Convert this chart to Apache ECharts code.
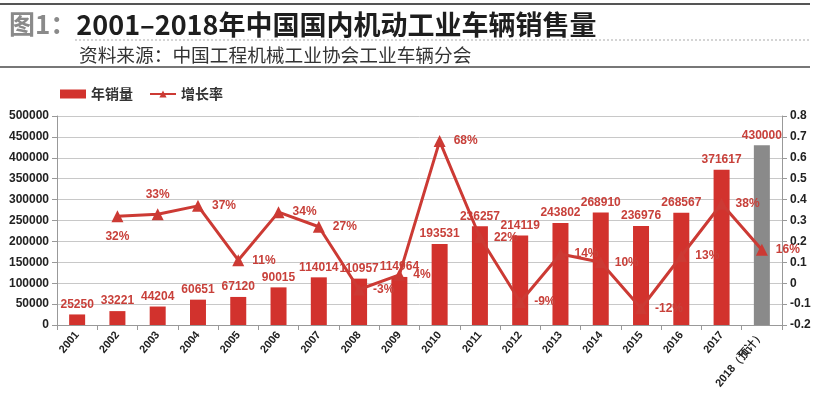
<!DOCTYPE html>
<html>
<head>
<meta charset="utf-8">
<script src="https://cdn.jsdelivr.net/npm/echarts@6/dist/echarts.min.js"></script>
<style>html,body{margin:0;padding:0;background:#fff;}#c{width:818px;height:395px;}</style>
</head>
<body>
<div id="c"></div>
<script>
const categories = ['2001','2002','2003','2004','2005','2006','2007','2008','2009','2010','2011','2012','2013','2014','2015','2016','2017','2018（预计）'];
const sales = [25250,33221,44204,60651,67120,90015,114014,110957,114964,193531,236257,214119,243802,268910,236976,268567,371617,430000];
const growth = [null,0.32,0.33,0.37,0.11,0.34,0.27,-0.03,0.04,0.68,0.22,-0.09,0.14,0.10,-0.12,0.13,0.38,0.16];
const leftTicks = {min:0, max:500000, interval:50000};
const rightTicks = {min:-0.2, max:0.8, interval:0.1};

const RED = '#d2322d', LINE = '#cc3a34', GRAY = '#8a8a8a';
const labelPos = {1:'bottom', 2:'top'};

const chart = echarts.init(document.getElementById('c'));
chart.setOption({
  backgroundColor:'#ffffff',
  animation:false,
  title:[{
    text:'{g|图1：}{b|2001–2018年中国国内机动工业车辆销售量}',
    left:4, top:6,
    textStyle:{rich:{
      g:{fontFamily:'Noto Sans CJK SC',fontWeight:'bold',fontSize:26,color:'#8a8a8a'},
      b:{fontFamily:'Noto Sans CJK SC',fontWeight:'bold',fontSize:27,color:'#1e1e1e'}
    }}
  },{
    text:'资料来源：中国工程机械工业协会工业车辆分会',
    left:74, top:41,
    textStyle:{fontFamily:'Noto Sans CJK SC',fontWeight:'normal',fontSize:18.7,color:'#333'}
  }],
  graphic:[
    {type:'line',shape:{x1:0,y1:4,x2:810,y2:4},style:{stroke:'#555',lineWidth:2}},
    {type:'line',shape:{x1:75,y1:40,x2:810,y2:40},style:{stroke:'#aaa',lineWidth:1,lineDash:[2,2]}},
    {type:'line',shape:{x1:0,y1:67,x2:810,y2:67},style:{stroke:'#777',lineWidth:2}}
  ],
  legend:{
    left:55, top:82, itemGap:16,
    textStyle:{fontFamily:'Noto Sans CJK SC',fontWeight:'bold',fontSize:14,color:'#333'},
    data:[
      {name:'年销量',icon:'rect',itemStyle:{color:RED}},
      {name:'增长率'}
    ],
    itemWidth:26, itemHeight:9
  },
  grid:{left:57,right:36,top:116,bottom:70},
  xAxis:{
    type:'category', data:categories,
    axisLine:{lineStyle:{color:'#999'}},
    axisTick:{show:true,alignWithLabel:false,lineStyle:{color:'#999'}},
    axisLabel:{rotate:50,interval:0,fontFamily:'Liberation Sans',fontWeight:'bold',fontSize:11,color:'#222',margin:8}
  },
  yAxis:[{
    type:'value', min:leftTicks.min, max:leftTicks.max, interval:leftTicks.interval,
    axisLine:{show:true,lineStyle:{color:'#999'}},
    axisTick:{show:true,lineStyle:{color:'#999'}},
    axisLabel:{fontFamily:'Liberation Sans',fontWeight:'bold',fontSize:12,color:'#222',margin:8,
      formatter:v=>String(v)},
    splitLine:{lineStyle:{color:'#c8c8c8'}}
  },{
    type:'value', min:rightTicks.min, max:rightTicks.max, interval:rightTicks.interval,
    axisLine:{show:true,lineStyle:{color:'#999'}},
    axisTick:{show:true,lineStyle:{color:'#999'}},
    axisLabel:{fontFamily:'Liberation Sans',fontWeight:'bold',fontSize:12,color:'#222',margin:8,
      formatter:v=>String(+v.toFixed(1))},
    splitLine:{show:false}
  }],
  series:[{
    name:'年销量', type:'bar', yAxisIndex:0, barWidth:16,
    data:sales.map((v,i)=>({value:v,itemStyle:{color:i===sales.length-1?GRAY:RED}})),
    itemStyle:{color:RED},
    label:{show:true,position:'top',distance:4,fontFamily:'Liberation Sans',fontWeight:'bold',fontSize:12,color:'#c8403a'}
  },{
    name:'增长率', type:'line', yAxisIndex:1, connectNulls:false,
    data:growth.map((v,i)=>({value:v===null?'-':v,label:{position:labelPos[i]||'right'}})),
    symbol:'triangle', symbolSize:12,
    lineStyle:{color:LINE,width:3},
    itemStyle:{color:LINE},
    label:{show:true,distance:8,fontFamily:'Liberation Sans',fontWeight:'bold',fontSize:12,color:'#c8403a',
      formatter:p=>Math.round(p.value*100)+'%'}
  }]
});
</script>
</body>
</html>
